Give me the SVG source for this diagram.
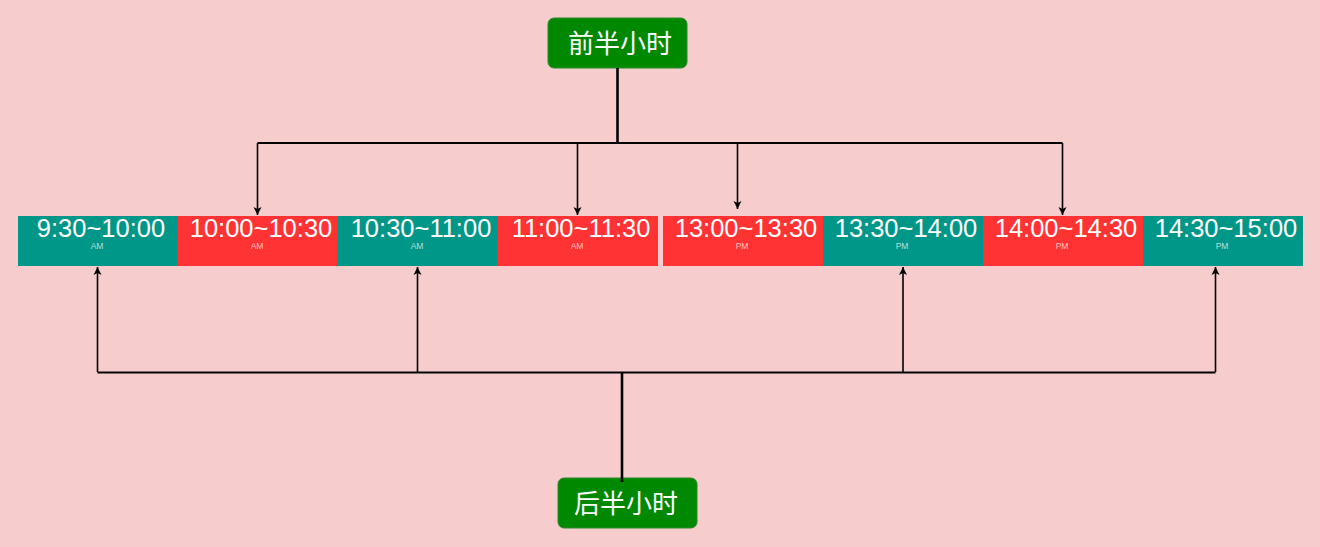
<svg xmlns="http://www.w3.org/2000/svg" width="1320" height="547" viewBox="0 0 1320 547">
<style>
.bg{fill:#f6cdcc}
.hdr{fill:#008800;stroke:#2a8a2a;stroke-width:1}
.hdrt{font-family:"Noto Sans CJK SC","Noto Sans",sans-serif;font-size:26px;fill:#ffffff;text-anchor:middle}
.teal{fill:#009688}
.red{fill:#ff3333}
.tm{font-family:"Liberation Sans",Arial,sans-serif;font-size:25.5px;fill:#ffffff;text-anchor:middle}
.ap{font-family:"Liberation Sans",Arial,sans-serif;font-size:8.5px;text-anchor:middle}
.apt{fill:#b8e0dc}
.apr{fill:#ffc0c0}
.ln{fill:none;stroke:#000;stroke-width:2}
.thick{fill:none;stroke:#000;stroke-width:2.6}
.ar{fill:none;stroke:#000;stroke-width:1.6}
</style>
<defs>
<marker id="ah" viewBox="0 0 8 10" refX="8" refY="5" markerWidth="8" markerHeight="10" markerUnits="userSpaceOnUse" orient="auto">
<path d="M0,1 L8,5 L0,9 L2,5 Z" fill="#000"/>
</marker>
</defs>
<rect class="bg" x="0" y="0" width="1320" height="547"/>

<g id="top-header">
<rect class="hdr" x="548" y="18" width="139" height="50" rx="6"/>
<text class="hdrt" x="620" y="53">前半小时</text>
</g>
<g id="bottom-header">
<rect class="hdr" x="558" y="478" width="139" height="50" rx="6"/>
<text class="hdrt" x="626" y="513">后半小时</text>
</g>

<g id="slot1"><rect class="teal" x="18" y="216" width="160" height="50"/><text class="tm" x="101" y="237">9:30~10:00</text><text class="ap apt" x="97" y="248.5">AM</text></g>
<g id="slot2"><rect class="red" x="178" y="216" width="160" height="50"/><text class="tm" x="261" y="237">10:00~10:30</text><text class="ap apr" x="257" y="248.5">AM</text></g>
<g id="slot3"><rect class="teal" x="338" y="216" width="160" height="50"/><text class="tm" x="421" y="237">10:30~11:00</text><text class="ap apt" x="417" y="248.5">AM</text></g>
<g id="slot4"><rect class="red" x="498" y="216" width="160" height="50"/><text class="tm" x="581" y="237">11:00~11:30</text><text class="ap apr" x="577" y="248.5">AM</text></g>
<g id="slot5"><rect class="red" x="663" y="216" width="160" height="50"/><text class="tm" x="746" y="237">13:00~13:30</text><text class="ap apr" x="742" y="248.5">PM</text></g>
<g id="slot6"><rect class="teal" x="823" y="216" width="160" height="50"/><text class="tm" x="906" y="237">13:30~14:00</text><text class="ap apt" x="902" y="248.5">PM</text></g>
<g id="slot7"><rect class="red" x="983" y="216" width="160" height="50"/><text class="tm" x="1066" y="237">14:00~14:30</text><text class="ap apr" x="1062" y="248.5">PM</text></g>
<g id="slot8"><rect class="teal" x="1143" y="216" width="160" height="50"/><text class="tm" x="1226" y="237">14:30~15:00</text><text class="ap apt" x="1222" y="248.5">PM</text></g>

<g id="connectors">
<path class="thick" d="M617.5,68 V143"/>
<path class="ln" d="M257.5,143 H1062.5"/>
<path class="ar" d="M257.5,143 V215" marker-end="url(#ah)"/>
<path class="ar" d="M577.5,143 V215" marker-end="url(#ah)"/>
<path class="ar" d="M737.5,143 V209" marker-end="url(#ah)"/>
<path class="ar" d="M1062.5,143 V215" marker-end="url(#ah)"/>
<path class="thick" d="M622,482 V372"/>
<path class="ln" d="M97.5,372.5 H1215.5"/>
<path class="ar" d="M97.5,372 V267" marker-end="url(#ah)"/>
<path class="ar" d="M417.5,372 V267" marker-end="url(#ah)"/>
<path class="ar" d="M903,372 V267" marker-end="url(#ah)"/>
<path class="ar" d="M1215.5,372 V267" marker-end="url(#ah)"/>
</g>
</svg>
